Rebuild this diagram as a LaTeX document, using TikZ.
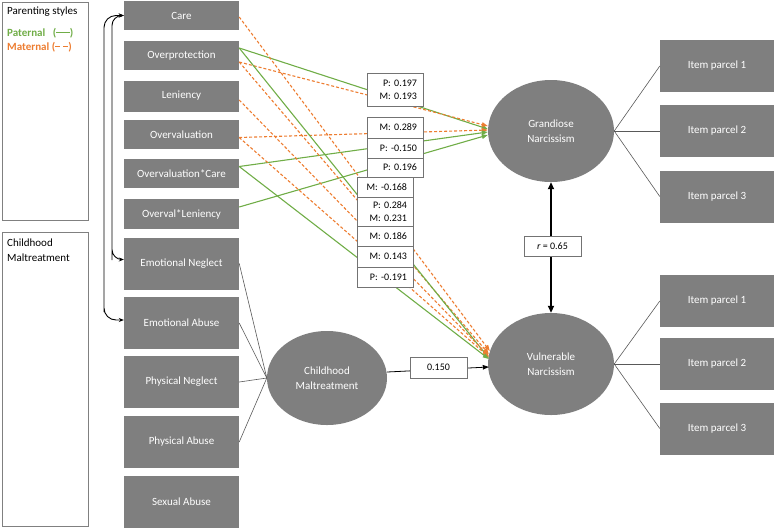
\documentclass[tikz,border=0pt]{standalone}
\usepackage{fontspec}
\setmainfont{Carlito}
\usetikzlibrary{arrows.meta,calc,shapes.geometric}
\definecolor{pgreen}{HTML}{70AD47}
\definecolor{morange}{HTML}{ED7D31}
\definecolor{boxgray}{HTML}{7F7F7F}
\begin{document}
\begin{tikzpicture}[x=1pt,y=-1pt,
  gbox/.style={rectangle, fill=boxgray, text=white, minimum width=115pt, inner sep=0pt, font=\fontsize{11}{13}\selectfont},
  lat/.style={ellipse, fill=boxgray, text=white, inner sep=0pt, align=center, font=\fontsize{11}{15}\selectfont},
  lbl/.style={rectangle, draw=black!55, line width=0.6pt, fill=white, inner sep=0pt, minimum width=56pt, text width=44pt, align=right, font=\fontsize{10}{13}\selectfont},
  clbl/.style={rectangle, draw=black!55, line width=0.6pt, fill=white, inner sep=0pt, minimum width=57pt, minimum height=20pt, align=center, font=\fontsize{10}{12}\selectfont},
  pline/.style={draw=pgreen, line width=1.1pt, -{Triangle[length=6pt,width=4.5pt]}},
  mline/.style={draw=morange, line width=1.1pt, dash pattern=on 3pt off 2pt, -{Triangle[length=6pt,width=4.5pt]}},
  ind/.style={draw=black!65, line width=0.6pt},
  legbox/.style={draw=black!50, line width=0.6pt},
  legtxt/.style={anchor=west, inner sep=0pt, font=\fontsize{11}{13}\selectfont}
]
\useasboundingbox (0,0) rectangle (778,528);

% legend boxes
\draw[legbox] (2,2) rectangle (88,220);
\draw[legbox] (2,232) rectangle (88,526);
\node[legtxt] (lg1) at (7,12) {Parenting styles};
\node[legtxt, text=pgreen, font=\fontsize{11}{13}\selectfont\bfseries] (lg2) at (7,33) {Paternal~~~(\rule[0.27em]{1.25em}{1.4pt})};
\node[legtxt, text=morange, font=\fontsize{11}{13}\selectfont\bfseries] (lg3) at (7,47) {Maternal (\rule[0.27em]{0.45em}{1.4pt}\hspace{0.3em}\rule[0.27em]{0.45em}{1.4pt})};
\node[legtxt, align=left, font=\fontsize{11}{15}\selectfont] (lg4) at (7,250) {Childhood\\Maltreatment};

% parenting boxes
\node[gbox, minimum height=29pt] (care) at (181.5,15.5) {Care};
\node[gbox, minimum height=29pt] (op) at (181.5,55.5) {Overprotection};
\node[gbox, minimum height=31pt] (len) at (181.5,96) {Leniency};
\node[gbox, minimum height=29pt] (ov) at (181.5,134.5) {Overvaluation};
\node[gbox, minimum height=29pt] (oc) at (181.5,173.5) {Overvaluation*Care};
\node[gbox, minimum height=30pt] (ol) at (181.5,214) {Overval*Leniency};

% maltreatment boxes
\node[gbox, minimum height=52pt] (en) at (181.5,263.5) {Emotional Neglect};
\node[gbox, minimum height=52pt] (ea) at (181.5,323) {Emotional Abuse};
\node[gbox, minimum height=52pt] (pn) at (181.5,382) {Physical Neglect};
\node[gbox, minimum height=52pt] (pa) at (181.5,442) {Physical Abuse};
\node[gbox, minimum height=52pt] (sa) at (181.5,502) {Sexual Abuse};

% latent variables
\node[lat, minimum width=126pt, minimum height=102pt] (gn) at (551,131) {Grandiose\\Narcissism};
\node[lat, minimum width=126pt, minimum height=102pt] (vn) at (551,364) {Vulnerable\\Narcissism};
\node[lat, minimum width=120pt, minimum height=94pt] (cm) at (327,378) {Childhood\\Maltreatment};

% item parcels
\node[gbox, minimum width=114pt, minimum height=52pt] (g1) at (717,66) {Item parcel 1};
\node[gbox, minimum width=114pt, minimum height=52pt] (g2) at (717,131) {Item parcel 2};
\node[gbox, minimum width=114pt, minimum height=52pt] (g3) at (717,196.5) {Item parcel 3};
\node[gbox, minimum width=114pt, minimum height=52pt] (v1) at (717,301) {Item parcel 1};
\node[gbox, minimum width=114pt, minimum height=52pt] (v2) at (717,364) {Item parcel 2};
\node[gbox, minimum width=114pt, minimum height=52pt] (v3) at (717,428.5) {Item parcel 3};

\draw[ind] (gn.east) -- (g1.west);
\draw[ind] (gn.east) -- (g2.west);
\draw[ind] (gn.east) -- (g3.west);
\draw[ind] (vn.east) -- (v1.west);
\draw[ind] (vn.east) -- (v2.west);
\draw[ind] (vn.east) -- (v3.west);

% maltreatment indicators
\draw[ind] (en.east) -- (cm.west);
\draw[ind] (ea.east) -- (cm.west);
\draw[ind] (pn.east) -- (cm.west);
\draw[ind] (pa.east) -- (cm.west);

% curved double arrows
\draw[black, line width=0.9pt, {Stealth[length=5pt,width=4pt]}-{Stealth[length=5pt,width=4pt]}, rounded corners=10pt]
  (care.west) -| (112,40) -- (112,250) |- ($(en.west)+(0,-4)$);
\draw[black, line width=0.9pt, {Stealth[length=5pt,width=4pt]}-{Stealth[length=5pt,width=4pt]}, rounded corners=12pt]
  (care.west) -| (104,40) -- (104,300) |- ($(ea.west)+(0,-3)$);

% paths to grandiose
\draw[pline] ($(op.east)+(0,-7.5)$) -- ($(gn.west)+(0,-2)$);
\draw[mline] ($(op.east)+(0,6.5)$) -- ($(gn.west)+(0,-5)$);
\draw[mline] ($(ov.east)+(0,3)$) -- ($(gn.west)+(0,-1)$);
\draw[pline] ($(oc.east)+(0,-7)$) -- ($(gn.west)+(0,1)$);
\draw[pline] ($(ol.east)+(0,-7)$) -- ($(gn.west)+(0,4)$);

% paths to vulnerable
\draw[mline] ($(care.east)+(0,1.5)$) -- ($(vn.west)+(2,-13)$);
\draw[mline] ($(op.east)+(0,6.5)$) -- ($(vn.west)+(1,-10)$);
\draw[pline] ($(op.east)+(0,-7.5)$) -- ($(vn.west)+(1,-6)$);
\draw[mline] ($(len.east)+(0,4)$) -- ($(vn.west)+(1,-8)$);
\draw[mline] ($(ov.east)+(0,3)$) -- ($(vn.west)+(1,-7)$);
\draw[pline] ($(oc.east)+(0,-7)$) -- ($(vn.west)+(1,-5)$);

% maltreatment to vulnerable
\draw[black, line width=0.8pt, -{Triangle[length=6pt,width=4.5pt]}] ($(cm.east)+(0,-6)$) -- ($(vn.west)+(1,3)$);

% correlation
\draw[black, line width=2pt, {Triangle[length=7pt,width=6pt]}-{Triangle[length=7pt,width=6pt]}] (gn.south) -- (vn.north);

% labels
\node[lbl, minimum height=33pt] (b1) at (395,89.5) {P: 0.197\\M: 0.193};
\node[lbl, minimum height=21pt] (b2) at (395,127.5) {M: 0.289};
\node[lbl, minimum height=20pt] (b3) at (395,148) {P: -0.150};
\node[lbl, minimum height=19pt] (b4) at (395,167.5) {P: 0.196};
\node[lbl, minimum height=20pt] (b5) at (385,187) {M: -0.168};
\node[lbl, minimum height=29pt] (b6) at (385,211.5) {P: 0.284\\M: 0.231};
\node[lbl, minimum height=20pt] (b7) at (385,236) {M: 0.186};
\node[lbl, minimum height=21pt] (b8) at (385,256.5) {M: 0.143};
\node[lbl, minimum height=20pt] (b9) at (385,277) {P: -0.191};
\node[clbl, minimum height=21pt] (b10) at (438.5,367.5) {0.150};
\node[clbl] (b11) at (552.5,246) {\textit{r} = 0.65};
\end{tikzpicture}
\end{document}
